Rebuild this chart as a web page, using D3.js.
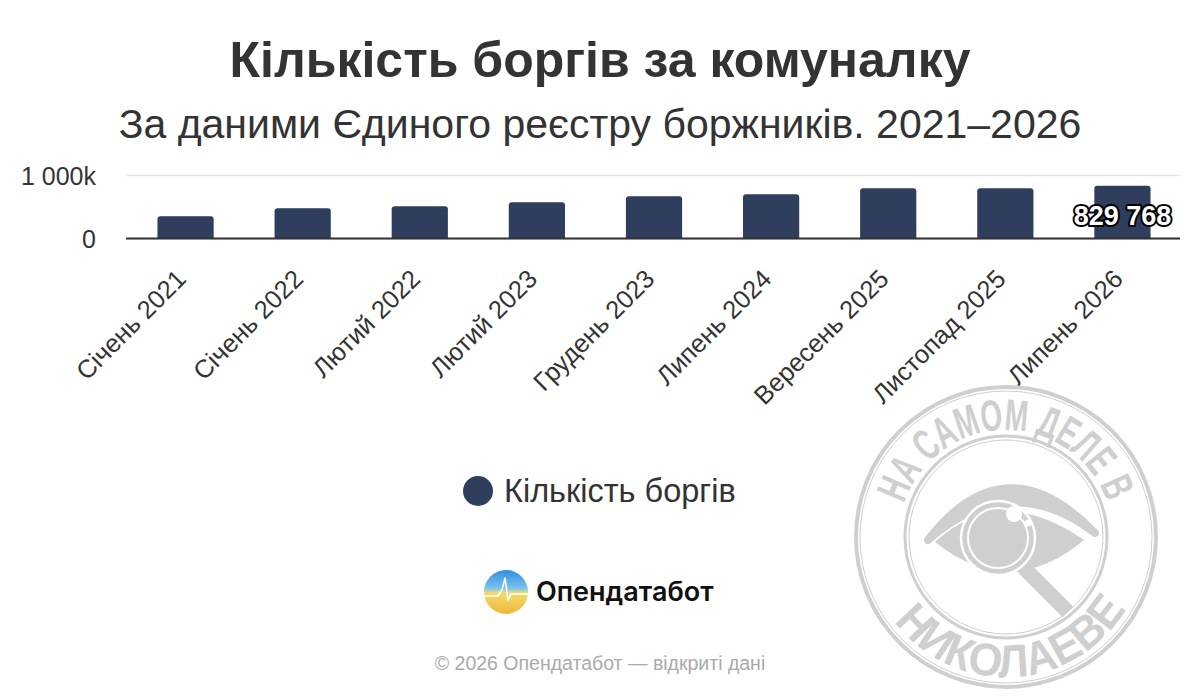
<!DOCTYPE html>
<html><head><meta charset="utf-8">
<script src="https://cdn.jsdelivr.net/npm/d3@7"></script>
<style>body{margin:0;background:#fff}svg{display:block}</style>
</head><body><svg id="c" width="1200" height="700"></svg>
<script>
const categories = ["Січень 2021","Січень 2022","Лютий 2022","Лютий 2023","Грудень 2023","Липень 2024","Вересень 2025","Листопад 2025","Липень 2026"];
const debts = [350000,476000,508000,571000,665000,697000,790000,792000,829768];
const yTicks = [0, 1000000];
const yTickLabels = ["0","1 000k"];
const labelledIndex = [8];
const seriesName = "Кількість боргів";
const titleText = "Кількість боргів за комуналку";
const subtitleText = "За даними Єдиного реєстру боржників. 2021–2026";
const brandText = "Опендатабот";
const footerText = "© 2026 Опендатабот — відкриті дані";
const stampTop = "НА САМОМ ДЕЛЕ В";
const stampBottom = "НИКОЛАЕВЕ";

const svg = d3.select("#c");
const FONT = "'Liberation Sans', Arial, sans-serif";
const BAR = "#2f3e5c";

svg.append("text").attr("x",600).attr("y",77).attr("text-anchor","middle")
  .attr("font-family",FONT).attr("font-weight","bold").attr("font-size",50).attr("fill","#333").text(titleText);
svg.append("text").attr("x",600).attr("y",138).attr("text-anchor","middle")
  .attr("font-family",FONT).attr("font-size",41).attr("fill","#333").text(subtitleText);

const x = d3.scaleBand().domain(categories).range([127,1181]).paddingInner(0.52).paddingOuter(0.26);
const y = d3.scaleLinear().domain([0,1000000]).range([238.5,175]);

// y axis / grid
const yAx = svg.append("g").attr("transform","translate(126,0)")
  .call(d3.axisLeft(y).tickValues(yTicks).tickSize(-1054).tickFormat((d,i)=>yTickLabels[i]));
yAx.select(".domain").remove();
yAx.selectAll(".tick line").attr("stroke","#e6e6e6").attr("stroke-width",1.5);
yAx.selectAll(".tick text").attr("x",-30).attr("dy","0.36em").attr("font-family",FONT).attr("font-size",25).attr("fill","#333");

// bars
const r = 3;
svg.append("g").selectAll("path").data(debts).join("path")
  .attr("fill",BAR)
  .attr("d",(d,i)=>{
    const x0 = x(categories[i]), w = x.bandwidth(), y0 = y(d), y1 = y(0);
    return `M${x0},${y1}V${y0+r}Q${x0},${y0} ${x0+r},${y0}H${x0+w-r}Q${x0+w},${y0} ${x0+w},${y0+r}V${y1}Z`;
  });

// baseline
svg.append("line").attr("x1",126).attr("x2",1180).attr("y1",y(0)).attr("y2",y(0)).attr("stroke","#333").attr("stroke-width",2);

// x axis labels
const xAx = svg.append("g").attr("transform",`translate(0,${y(0)})`).call(d3.axisBottom(x).tickSize(0));
xAx.select(".domain").remove();
xAx.selectAll(".tick text")
  .attr("font-family",FONT).attr("font-size",25.5).attr("fill","#333")
  .attr("text-anchor","end").attr("dy",0).attr("y",0)
  .attr("transform","translate(2,42) rotate(-45)");

// data label
svg.append("g").selectAll("text").data(labelledIndex).join("text")
  .attr("x",i=>x(categories[i])+x.bandwidth()/2).attr("y",225)
  .attr("text-anchor","middle").attr("font-family",FONT).attr("font-weight","bold").attr("font-size",27)
  .attr("fill","#fff").attr("stroke","#000").attr("stroke-width",4).attr("stroke-linejoin","round")
  .attr("paint-order","stroke").text(i=>d3.format(",")(debts[i]).replace(/,/g," "));

// legend
svg.append("circle").attr("cx",478).attr("cy",491).attr("r",15).attr("fill",BAR);
svg.append("text").attr("x",504).attr("y",502).attr("font-family",FONT).attr("font-size",32.5).attr("fill","#333").text(seriesName);

// logo
const defs = svg.append("defs");
const lg = defs.append("linearGradient").attr("id","lg").attr("x1",0).attr("y1",0).attr("x2",0).attr("y2",1);
lg.append("stop").attr("offset","0").attr("stop-color","#2f8fe0");
lg.append("stop").attr("offset","0.42").attr("stop-color","#7cc3ee");
lg.append("stop").attr("offset","0.52").attr("stop-color","#f3dc6a");
lg.append("stop").attr("offset","1").attr("stop-color","#f0b63a");
svg.append("circle").attr("cx",506).attr("cy",592).attr("r",22).attr("fill","url(#lg)");
svg.append("path").attr("d","M484,596 L498,596 L502,590 L505,578 L508,600 L511,594 L528,594")
  .attr("fill","none").attr("stroke","#fff").attr("stroke-width",1.6).attr("stroke-linejoin","round");
svg.append("text").attr("x",536).attr("y",601).attr("font-family","Inter, 'Open Sans', sans-serif")
  .attr("font-weight",600).attr("font-size",27).attr("fill","#111").text(brandText);

// footer
svg.append("text").attr("x",600).attr("y",670).attr("text-anchor","middle").attr("font-family",FONT)
  .attr("font-size",19.5).attr("fill","#aaa").text(footerText);

// stamp watermark
const cx = 1006, cy = 537, G = "#cdcdcd";
const st = svg.append("g").attr("opacity",0.95);
st.append("circle").attr("cx",cx).attr("cy",cy).attr("r",150).attr("fill","none").attr("stroke",G).attr("stroke-width",4);
st.append("circle").attr("cx",cx).attr("cy",cy).attr("r",146).attr("fill","none").attr("stroke",G).attr("stroke-width",1);
st.append("circle").attr("cx",cx).attr("cy",cy).attr("r",101).attr("fill","none").attr("stroke",G).attr("stroke-width",3);
st.append("circle").attr("cx",cx).attr("cy",cy).attr("r",97).attr("fill","none").attr("stroke",G).attr("stroke-width",1);
const rad = a => a*Math.PI/180;
const rt = 107, a0 = -162, a1 = -19;
defs.append("path").attr("id","arcTop")
  .attr("d",`M${cx+rt*Math.cos(rad(a0))},${cy+rt*Math.sin(rad(a0))} A${rt},${rt} 0 0 1 ${cx+rt*Math.cos(rad(a1))},${cy+rt*Math.sin(rad(a1))}`);
const rb = 140, b0 = 143, b1 = 31;
defs.append("path").attr("id","arcBot")
  .attr("d",`M${cx+rb*Math.cos(rad(b0))},${cy+rb*Math.sin(rad(b0))} A${rb},${rb} 0 0 0 ${cx+rb*Math.cos(rad(b1))},${cy+rb*Math.sin(rad(b1))}`);
st.append("text").attr("font-family",FONT).attr("font-weight","bold").attr("font-size",44).attr("fill",G)
  .append("textPath").attr("href","#arcTop").attr("textLength",rt*rad(a1-a0)).attr("lengthAdjust","spacingAndGlyphs").text(stampTop);
st.append("text").attr("font-family",FONT).attr("font-weight","bold").attr("font-size",46).attr("fill",G)
  .append("textPath").attr("href","#arcBot").attr("textLength",rb*rad(b0-b1)).attr("lengthAdjust","spacingAndGlyphs").text(stampBottom);
// eye
st.append("path").attr("d",`M928,540 Q1005,440 1095,533 Q1010,468 928,540 Z`).attr("fill",G).attr("stroke",G).attr("stroke-width",8).attr("stroke-linejoin","round");
st.append("path").attr("d",`M935,542 Q1000,482 1084,540 Q1010,602 935,542 Z`).attr("fill",G);
st.append("line").attr("x1",1022).attr("y1",566).attr("x2",1068).attr("y2",612).attr("stroke",G).attr("stroke-width",15);
st.append("circle").attr("cx",998).attr("cy",538).attr("r",37).attr("fill",G).attr("stroke","#fff").attr("stroke-width",2.5);
st.append("circle").attr("cx",998).attr("cy",538).attr("r",30).attr("fill","none").attr("stroke","#fff").attr("stroke-width",2);
st.append("circle").attr("cx",1014).attr("cy",514).attr("r",8).attr("fill","#fff");
st.append("circle").attr("cx",1028).attr("cy",523).attr("r",3.5).attr("fill","#fff");
</script></body></html>
